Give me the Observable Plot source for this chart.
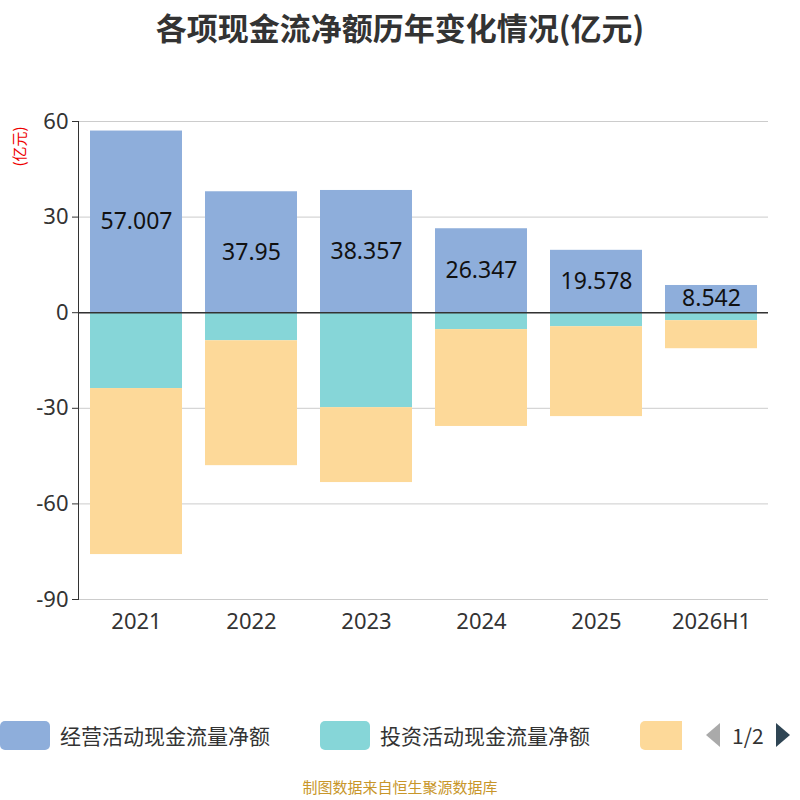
<!DOCTYPE html>
<html><head><meta charset="utf-8">
<script src="https://cdn.jsdelivr.net/npm/d3@7"></script>
<script src="https://cdn.jsdelivr.net/npm/@observablehq/plot@0.6"></script>
<style>
body{margin:0;width:800px;height:800px;position:relative;font-family:"Noto Sans CJK SC","Noto Sans",sans-serif;background:#fff;overflow:hidden}
#title{position:absolute;top:4px;left:0;width:800px;text-align:center;font-size:31px;font-weight:bold;color:#333}
#chart{position:absolute;top:60px;left:0}
#unit{position:absolute;left:-7px;top:136px;transform:rotate(-90deg);transform-origin:center;color:#e00;font-size:15px;width:50px;text-align:center;white-space:nowrap}
#legend{position:absolute;top:718px;left:0;width:800px;height:36px;font-size:21px;color:#333}
.li{position:absolute;top:0;display:flex;align-items:center;height:34px}
.sw{width:50px;height:29px;border-radius:5px;margin-right:10px}
#cap{position:absolute;top:776px;width:800px;text-align:center;color:#c8962a;font-size:15px}
</style></head><body>
<div id="title">各项现金流净额历年变化情况(亿元)</div>
<div id="chart"></div>
<div id="unit">(亿元)</div>
<div id="legend">
<div class="li" style="left:0"><div class="sw" style="background:#8eaedb"></div>经营活动现金流量净额</div>
<div class="li" style="left:320px"><div class="sw" style="background:#86d6d8"></div>投资活动现金流量净额</div>
<div class="li" style="left:640px;width:160px;overflow:hidden"><div class="sw" style="background:#fdd999;flex:none;width:42px;border-radius:5px 0 0 5px"></div>
<svg width="22" height="28" style="margin-left:10px"><path d="M18 2 L4 14 L18 26Z" fill="#aaa"/></svg>
<span style="margin-left:8px">1/2</span>
<svg width="22" height="28" style="margin-left:8px"><path d="M4 2 L18 14 L4 26Z" fill="#2f4554"/></svg></div>
</div>
<div id="cap">制图数据来自恒生聚源数据库</div>
<script>
const years=["2021","2022","2023","2024","2025","2026H1"];
const operating=[57.007,37.95,38.357,26.347,19.578,8.542];
const investing=[-23.8,-8.8,-29.8,-5.3,-4.4,-2.5];
const financing=[-52.1,-39.2,-23.5,-30.4,-28.2,-8.8];
const seriesNames=["经营活动现金流量净额","投资活动现金流量净额","筹资活动现金流量净额"];
const colors=["#8eaedb","#86d6d8","#fdd999"];
const yTicks=[-90,-60,-30,0,30,60];
const data=[];
[operating,investing,financing].forEach((arr,si)=>arr.forEach((v,i)=>data.push({year:years[i],s:seriesNames[si],v})));
const opData=years.map((y,i)=>({year:y,v:operating[i]}));
const chart=Plot.plot({
 width:800,height:600,marginTop:61,marginBottom:61,marginLeft:78,marginRight:32,
 style:{fontSize:"20px",fontFamily:"Noto Sans, sans-serif",color:"#333"},
 x:{domain:years,paddingInner:0.2,paddingOuter:0.1,label:null},
 y:{domain:[-90,60],label:null},
 color:{domain:seriesNames,range:colors},
 marks:[
  Plot.gridY(yTicks,{stroke:"#ccc",strokeOpacity:1}),
  Plot.barY(data,{x:"year",y:"v",fill:"s",order:seriesNames}),
  Plot.ruleY([0],{stroke:"#333",strokeWidth:1.5}),
  Plot.axisY({ticks:yTicks,tickSize:6,tickPadding:4,fontSize:22,tickFormat:d=>String(d),label:null}),
  Plot.axisX({tickSize:0,tickPadding:14,fontSize:22,label:null}),
  Plot.frame({anchor:"left",stroke:"#333"}),
  Plot.text(opData,{x:"year",y:d=>d.v/2,text:d=>String(d.v),fontSize:23,fill:"#111"})
 ]
});
document.getElementById("chart").appendChild(chart);
</script></body></html>
